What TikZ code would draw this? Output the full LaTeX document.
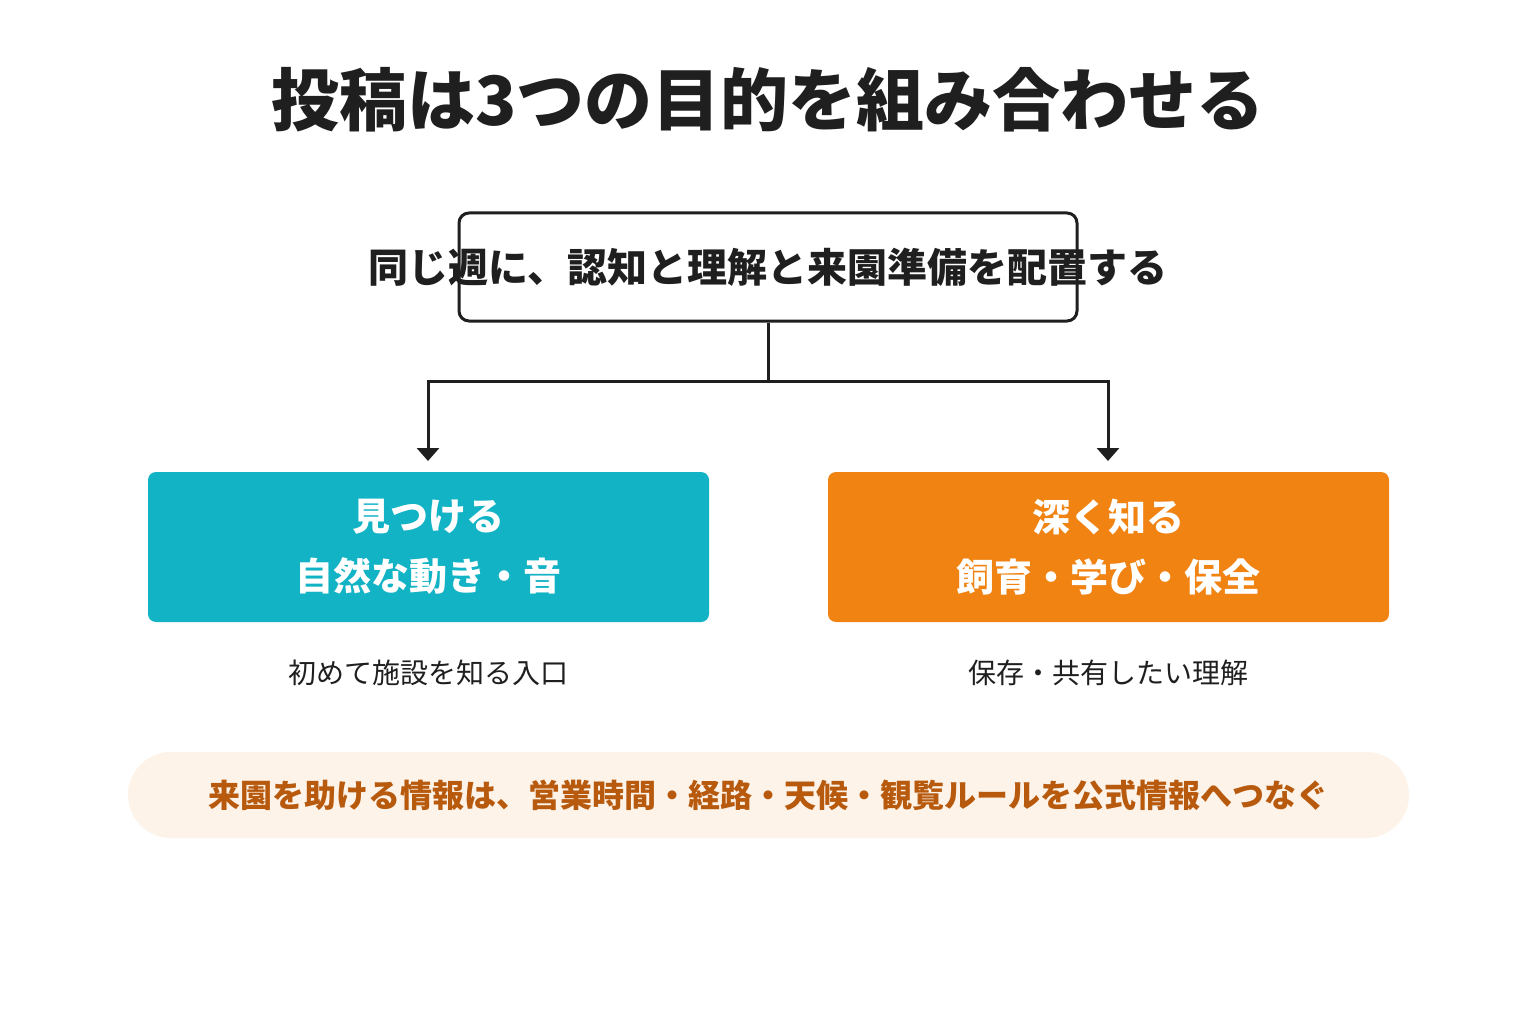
\documentclass[tikz,border=0pt]{standalone}
\usepackage{fontspec}
\setmainfont{Noto Sans CJK JP}
\usetikzlibrary{arrows.meta}
\definecolor{ink}{HTML}{1F1F1F}
\definecolor{teal}{HTML}{13B3C6}
\definecolor{orng}{HTML}{F08312}
\definecolor{pill}{HTML}{FDF3E8}
\definecolor{pilltxt}{HTML}{B85A0E}
\begin{document}
\begin{tikzpicture}[x=1pt,y=-1pt,
  box/.style={rounded corners=8pt,minimum width=561pt,minimum height=150pt,text=white,font=\bfseries\fontsize{38}{60}\selectfont,align=center},
  captxt/.style={text=ink,font=\fontsize{28}{34}\selectfont},
  conn/.style={draw=ink,line width=3pt},
  arr/.style={conn,-{Triangle[width=22pt,length=13pt]}}]
\useasboundingbox (0,0) rectangle (1536,1024);
\fill[white] (0,0) rectangle (1536,1024);
\node[text=ink,font=\bfseries\fontsize{68}{80}\selectfont] (title) at (768,100) {投稿は3つの目的を組み合わせる};
\node[draw=ink,line width=3pt,rounded corners=10pt,minimum width=618pt,minimum height=108pt] (top) at (768,267) {};
\node[text=ink,font=\bfseries\fontsize{40}{48}\selectfont] (toptxt) at (768,267) {同じ週に、認知と理解と来園準備を配置する};
\node[box,fill=teal] (L) at (428.5,547) {見つける\\自然な動き・音};
\node[box,fill=orng] (R) at (1108.5,547) {深く知る\\飼育・学び・保全};
\node[captxt] (Lc) at (428,673) {初めて施設を知る入口};
\node[captxt] (Rc) at (1108,673) {保存・共有したい理解};
\coordinate (j) at (768,381);
\coordinate (jl) at (428,381);
\coordinate (jr) at (1108,381);
\coordinate (al) at (428,461);
\coordinate (ar) at (1108,461);
\draw[conn] (top.south) -- (j);
\draw[arr] (j) -- (jl) -- (al);
\draw[arr] (j) -- (jr) -- (ar);
\node[fill=pill,rounded corners=43pt,minimum width=1281pt,minimum height=86pt,text=pilltxt,font=\bfseries\fontsize{32}{40}\selectfont] (note) at (768.5,795) {来園を助ける情報は、営業時間・経路・天候・観覧ルールを公式情報へつなぐ};
\end{tikzpicture}
\end{document}
